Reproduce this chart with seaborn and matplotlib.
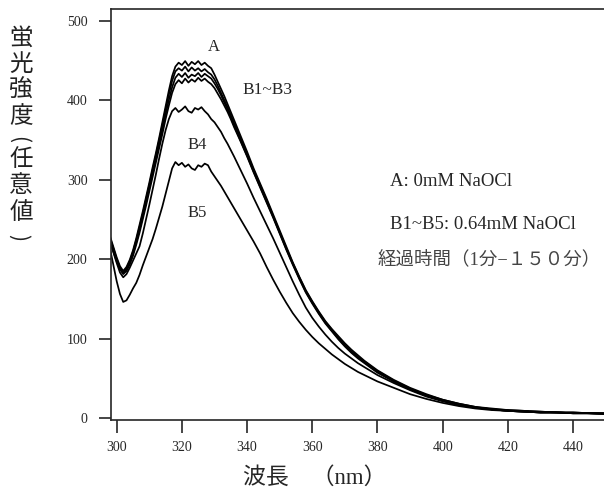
import matplotlib
matplotlib.use('Agg')
import matplotlib.pyplot as plt
import seaborn as sns
import pandas as pd

wavelength = [298, 299, 300, 301, 302, 303, 304, 305, 306, 307, 308, 309, 310, 311, 312, 313,
              314, 315, 316, 317, 318, 319, 320, 321, 322, 323, 324, 325, 326, 327, 328, 329,
              330, 331, 332, 333, 334, 335, 336,
              338, 340, 342, 344, 346, 348, 350, 352, 354, 356, 358, 360, 362, 364, 366, 368,
              370, 372, 374, 376, 378, 380,
              385, 390, 395, 400, 405, 410, 415, 420, 425, 430, 435, 440, 445, 450]

A = [228, 215, 202, 191, 185, 190, 199, 211, 226, 243, 260, 278, 296, 315, 333, 352,
     372, 392, 412, 430, 442, 447, 444, 449, 443, 448, 445, 449, 444, 447, 443, 440,
     432, 423, 414, 405, 395, 385, 375,
     355, 335, 314, 295, 276, 256, 236, 216, 196, 178, 161, 147, 134, 122, 112, 103,
     94, 86, 79, 72, 66, 60,
     48, 38, 30, 23, 18, 14, 12, 10, 9, 8, 7, 7, 6, 6]

B1 = [224, 212, 200, 189, 183, 188, 197, 209, 224, 240, 257, 275, 293, 312, 330, 349,
      368, 388, 407, 424, 436, 440, 437, 442, 436, 441, 437, 440, 436, 439, 435, 432,
      426, 418, 409, 400, 391, 381, 371,
      352, 332, 312, 293, 274, 254, 234, 214, 195, 177, 160, 146, 133, 121, 111, 101,
      92, 84, 77, 71, 65, 59,
      47, 37, 29, 23, 18, 14, 11, 10, 9, 8, 7, 7, 6, 6]

B2 = [220, 209, 197, 187, 182, 186, 195, 207, 221, 237, 254, 271, 289, 308, 326, 344,
      363, 382, 400, 416, 428, 433, 429, 434, 428, 432, 430, 434, 429, 433, 430, 427,
      421, 414, 406, 397, 388, 378, 368,
      349, 330, 310, 291, 272, 253, 233, 213, 194, 176, 159, 145, 132, 120, 110, 100,
      91, 83, 76, 70, 64, 58,
      46, 36, 28, 22, 17, 13, 11, 9, 8, 7, 7, 6, 6, 5]

B3 = [226, 213, 199, 188, 181, 185, 193, 204, 218, 233, 250, 267, 285, 303, 321, 339,
      357, 376, 393, 409, 420, 425, 421, 427, 422, 426, 423, 428, 424, 427, 423, 420,
      415, 408, 401, 393, 385, 376, 366,
      348, 329, 309, 290, 271, 252, 232, 212, 193, 175, 158, 144, 131, 119, 109, 99,
      90, 82, 75, 69, 63, 57,
      46, 36, 28, 22, 17, 13, 11, 9, 8, 7, 7, 6, 6, 5]

B4 = [222, 208, 195, 183, 177, 181, 189, 198, 207, 216, 232, 250, 268, 287, 306, 326,
      345, 362, 376, 386, 390, 385, 388, 392, 386, 384, 390, 388, 391, 386, 382, 376,
      372, 366, 360, 352, 345, 337, 329,
      312, 295, 277, 260, 243, 226, 208, 190, 172, 155, 139, 126, 115, 105, 96, 88,
      81, 75, 69, 64, 59, 54,
      44, 35, 27, 21, 16, 13, 11, 9, 8, 7, 7, 6, 6, 5]

B5 = [212, 192, 172, 156, 146, 148, 155, 163, 170, 180, 192, 203, 214, 225, 238, 252,
      266, 282, 298, 314, 322, 318, 321, 316, 319, 314, 312, 318, 316, 320, 318, 310,
      304, 298, 292, 285, 278, 271, 264,
      250, 236, 222, 207, 190, 174, 159, 145, 132, 121, 111, 102, 94, 87, 80, 74,
      68, 63, 58, 54, 50, 46,
      38, 30, 24, 19, 15, 12, 10, 9, 8, 7, 7, 6, 6, 6]

curves = {'A': A, 'B1': B1, 'B2': B2, 'B3': B3, 'B4': B4, 'B5': B5}

df = pd.DataFrame(curves)
df['wl'] = wavelength
long = df.melt(id_vars='wl', var_name='curve', value_name='intensity')

sns.set_style('ticks')
plt.rcParams['font.family'] = ['Liberation Serif', 'Noto Sans CJK JP']

fig = plt.figure(figsize=(6.04, 4.90), dpi=100)
ax = fig.add_axes([111 / 604, 70 / 490, 493 / 604, 411 / 490])

sns.lineplot(data=long, x='wl', y='intensity', units='curve', estimator=None,
             color='black', lw=1.25, legend=False, ax=ax)

ax.set_xlim(298.25, 449.5)
ax.set_ylim(-2.5, 514.5)
ax.set_xticks(range(300, 441, 20))
ax.set_yticks(range(0, 501, 100))
ax.tick_params(axis='both', direction='out', length=9, width=1.2, labelsize=10)
ax.tick_params(axis='y', pad=8)
ax.tick_params(axis='x', pad=6)
ax.spines['right'].set_visible(False)
for s in ['left', 'bottom', 'top']:
    ax.spines[s].set_linewidth(1.2)
ax.set_xlabel('')
ax.set_ylabel('')

# curve labels
ax.text(329.9, 467, 'A', fontsize=12, ha='center', va='center')
ax.text(338.5, 413, 'B1~B3', fontsize=12.5, ha='left', va='center')
ax.text(324.7, 343, 'B4', fontsize=12, ha='center', va='center')
ax.text(324.7, 258, 'B5', fontsize=12, ha='center', va='center')

ax.text(383.8, 298, 'A: 0mM NaOCl', fontsize=13.5, ha='left', va='center')
ax.text(383.8, 243, 'B1~B5: 0.64mM NaOCl', fontsize=13.5, ha='left', va='center')
ax.text(380.1, 199, '経過時間（1分−１５０分）', fontsize=13.3, ha='left', va='center',
        color='#444444')

# axis labels
fig.text(315 / 604, 1 - 478 / 490, '波長　（nm）', fontsize=16.5, ha='center', va='center')

# vertical y label, one character per row, brackets turned to vertical form
ylabel_chars = ['蛍', '光', '強', '度', '(', '任', '意', '値', ')']
ylabel_rows = [38, 64, 90, 117, 140, 160, 186, 212, 237]
for ch, py in zip(ylabel_chars, ylabel_rows):
    if ch in '()':
        fig.text(18 / 604, 1 - py / 490, ch, fontsize=15, ha='center', va='center',
                 rotation=-90, family=['Noto Sans CJK JP'], color='#222222')
    else:
        fig.text(21 / 604, 1 - py / 490, ch, fontsize=17, ha='center', va='center',
                 family=['Noto Sans CJK JP'], color='#222222')

fig.savefig('out.png', dpi=100)
